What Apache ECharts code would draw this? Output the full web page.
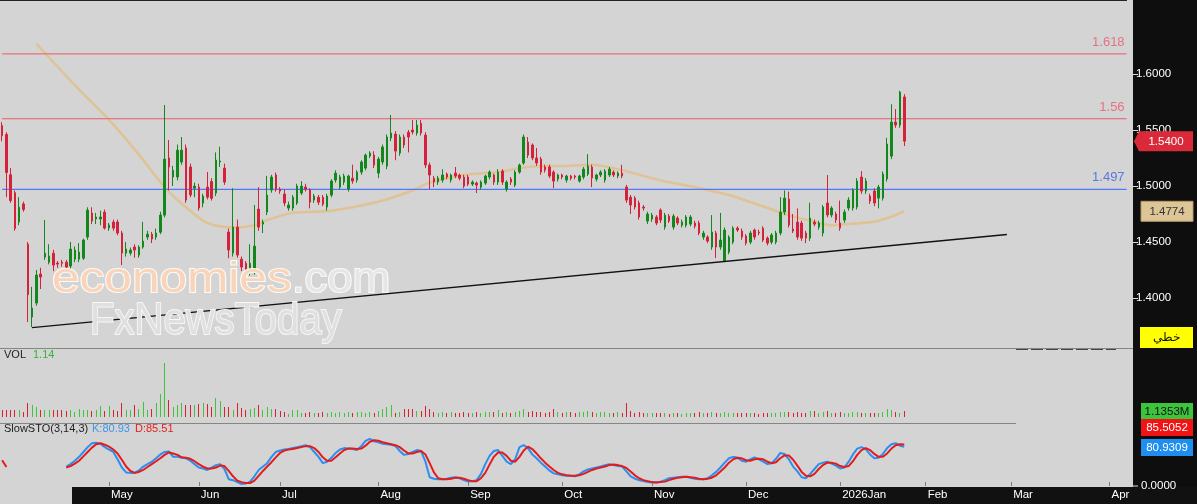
<!DOCTYPE html>
<html><head><meta charset="utf-8">
<script src="https://cdn.jsdelivr.net/npm/echarts@6/dist/echarts.min.js"></script>
<style>
html,body{margin:0;padding:0;background:#0e0e0e;overflow:hidden;width:1197px;height:504px}
#bg{position:absolute;left:0;top:0;width:1133px;height:504px;background:#d4d4d4}
#xbar{position:absolute;left:72px;top:487px;width:1125px;height:17px;background:#111}
#topline{position:absolute;left:0;top:0;width:1127px;height:1px;background:#222}
#sep1{position:absolute;left:0;top:348px;width:1133px;height:1px;background:#858585}
#sep2{position:absolute;left:0;top:423px;width:1016px;height:1px;background:#858585}
#dash{position:absolute;left:1016px;top:349px;width:100px;height:1px;background:repeating-linear-gradient(90deg,#444 0 12px,transparent 12px 15px)}
#c{position:absolute;left:0;top:0;width:1197px;height:504px}
</style>
</head><body>
<div id="bg"></div><div id="xbar"></div><div id="topline"></div><div id="sep1"></div><div id="sep2"></div><div id="dash"></div>
<div id="c"></div>
<script>
// ---- data ----
const slotCount = 265; // trading-day slots on the time axis (incl. future)
const monthLabels = ['May','Jun','Jul','Aug','Sep','Oct','Nov','Dec','2026Jan','Feb','Mar','Apr'];
const monthIdx = [25,46,65,88,109,131,152,174,196,216,236,259];
const priceTicks = [1.40,1.45,1.50,1.55,1.60];
const levels = [1.618, 1.56, 1.497];
const levelEndSlot = 263;
// [open, close, low, high]
const ohlc = [
[1.554,1.545,1.540,1.557],[1.546,1.512,1.490,1.548],[1.510,1.487,1.485,1.516],[1.494,1.462,1.460,1.496],[1.468,1.481,1.465,1.490],
[1.484,1.479,1.477,1.486],[1.448,1.403,1.3785,1.450],[1.383,1.391,1.374,1.410],[1.3955,1.4205,1.393,1.425],[1.4214,1.4187,1.408,1.427],
[1.4365,1.440,1.434,1.4696],[1.432,1.4374,1.430,1.448],[1.440,1.4294,1.424,1.443],[1.4312,1.4303,1.427,1.433],[1.432,1.431,1.428,1.434],
[1.432,1.4276,1.424,1.434],[1.4285,1.4437,1.426,1.450],[1.4347,1.4428,1.432,1.446],[1.4347,1.441,1.432,1.449],[1.4356,1.4517,1.434,1.453],
[1.4544,1.4785,1.452,1.481],[1.4758,1.4687,1.466,1.481],[1.4705,1.4723,1.466,1.476],[1.4705,1.4723,1.465,1.478],[1.4767,1.4624,1.461,1.479],
[1.4624,1.4651,1.460,1.467],[1.4678,1.4624,1.460,1.470],[1.4678,1.458,1.456,1.470],[1.458,1.4401,1.4294,1.460],[1.4401,1.4437,1.437,1.450],
[1.4401,1.4428,1.438,1.445],[1.4455,1.4428,1.436,1.448],[1.4383,1.4455,1.436,1.447],[1.4455,1.4508,1.444,1.468],[1.4544,1.457,1.452,1.460],
[1.457,1.4526,1.449,1.459],[1.4544,1.458,1.452,1.462],[1.4588,1.474,1.457,1.477],[1.474,1.524,1.472,1.5723],[1.525,1.517,1.496,1.541],
[1.508,1.514,1.500,1.518],[1.508,1.532,1.505,1.537],[1.5214,1.532,1.519,1.5437],[1.534,1.4874,1.485,1.537],[1.517,1.492,1.490,1.520],
[1.4981,1.4999,1.490,1.503],[1.499,1.4803,1.478,1.502],[1.4847,1.491,1.481,1.493],[1.499,1.490,1.488,1.5125],[1.504,1.489,1.487,1.507],
[1.4937,1.5231,1.491,1.530],[1.5214,1.5223,1.517,1.535],[1.516,1.5035,1.501,1.520],[1.4589,1.4428,1.4356,1.462],[1.4401,1.4633,1.437,1.498],
[1.4633,1.4383,1.436,1.470],[1.4347,1.4276,1.424,1.437],[1.431,1.425,1.421,1.433],[1.425,1.431,1.420,1.448],[1.425,1.4463,1.421,1.483],
[1.4794,1.4633,1.460,1.499],[1.466,1.4678,1.458,1.470],[1.4767,1.4919,1.474,1.509],[1.4964,1.508,1.494,1.510],[1.5098,1.4973,1.495,1.512],
[1.4973,1.4955,1.493,1.499],[1.4928,1.4848,1.482,1.497],[1.4803,1.483,1.478,1.486],[1.4803,1.490,1.478,1.492],[1.4848,1.4999,1.483,1.502],
[1.4937,1.4999,1.492,1.5044],[1.499,1.4973,1.495,1.502],[1.4964,1.4856,1.480,1.498],[1.4874,1.491,1.485,1.493],[1.490,1.4856,1.483,1.492],
[1.490,1.4838,1.482,1.492],[1.4812,1.491,1.478,1.493],[1.4919,1.5044,1.490,1.506],[1.5053,1.5115,1.503,1.514],[1.499,1.508,1.497,1.510],
[1.5035,1.5089,1.501,1.511],[1.4973,1.5089,1.495,1.510],[1.507,1.5044,1.502,1.519],[1.5053,1.5124,1.503,1.514],[1.5124,1.5214,1.510,1.523],
[1.516,1.5276,1.514,1.529],[1.5267,1.5294,1.525,1.531],[1.5276,1.5187,1.516,1.531],[1.5115,1.524,1.507,1.526],[1.5214,1.5348,1.519,1.537],
[1.5178,1.5437,1.515,1.546],[1.5428,1.5473,1.540,1.5633],[1.5464,1.5312,1.523,1.549],[1.5294,1.5437,1.527,1.546],[1.5437,1.5366,1.534,1.546],
[1.548,1.5437,1.530,1.550],[1.550,1.5482,1.546,1.559],[1.5473,1.5544,1.545,1.559],[1.556,1.5473,1.545,1.559],[1.5455,1.5187,1.516,1.548],
[1.5187,1.5098,1.4973,1.521],[1.507,1.5035,1.499,1.509],[1.5035,1.507,1.501,1.509],[1.5053,1.5098,1.503,1.515],[1.5107,1.508,1.506,1.512],
[1.5053,1.5098,1.503,1.511],[1.5115,1.5089,1.507,1.517],[1.5098,1.507,1.505,1.511],[1.508,1.4999,1.498,1.510],[1.508,1.5017,1.500,1.510],
[1.5017,1.5035,1.500,1.505],[1.5026,1.5008,1.4937,1.504],[1.499,1.5035,1.497,1.505],[1.5026,1.5089,1.501,1.510],[1.508,1.5124,1.506,1.514],
[1.5098,1.5035,1.501,1.511],[1.5035,1.5124,1.501,1.515],[1.5133,1.5035,1.501,1.515],[1.4973,1.5035,1.495,1.505],[1.5062,1.5035,1.501,1.508],
[1.5008,1.5124,1.499,1.514],[1.5124,1.5187,1.511,1.520],[1.5205,1.5437,1.519,1.546],[1.5392,1.5276,1.525,1.5437],[1.5366,1.525,1.523,1.538],
[1.525,1.5205,1.518,1.534],[1.5241,1.5124,1.510,1.526],[1.517,1.5142,1.512,1.519],[1.517,1.5089,1.507,1.519],[1.5124,1.5044,1.498,1.514],
[1.5062,1.5098,1.504,1.511],[1.5098,1.508,1.506,1.511],[1.5053,1.5089,1.503,1.510],[1.5089,1.507,1.505,1.510],[1.5089,1.508,1.506,1.510],
[1.5044,1.5089,1.503,1.510],[1.508,1.5151,1.506,1.517],[1.5107,1.5178,1.509,1.5285],[1.517,1.5071,1.499,1.519],[1.5062,1.5098,1.504,1.511],
[1.5098,1.5124,1.508,1.514],[1.5053,1.5133,1.503,1.515],[1.5098,1.5151,1.508,1.517],[1.5124,1.5098,1.508,1.514],[1.5089,1.5115,1.507,1.513],
[1.5115,1.5089,1.507,1.519],[1.499,1.4874,1.485,1.501],[1.490,1.483,1.475,1.492],[1.4892,1.4812,1.479,1.491],[1.4848,1.4723,1.470,1.487],
[1.4812,1.4803,1.478,1.483],[1.4687,1.475,1.466,1.477],[1.4705,1.474,1.468,1.476],[1.4723,1.4669,1.465,1.474],[1.4785,1.4696,1.467,1.480],
[1.4633,1.474,1.461,1.476],[1.4731,1.4687,1.467,1.475],[1.4633,1.4731,1.461,1.475],[1.4714,1.4669,1.465,1.473],[1.465,1.4678,1.463,1.470],
[1.465,1.4723,1.463,1.474],[1.466,1.4723,1.464,1.474],[1.4669,1.4642,1.462,1.469],[1.4669,1.458,1.456,1.469],[1.4544,1.458,1.452,1.460],
[1.4544,1.4508,1.449,1.456],[1.4455,1.4589,1.443,1.474],[1.458,1.4455,1.4356,1.460],[1.4455,1.4517,1.443,1.476],[1.433,1.4607,1.432,1.463],
[1.441,1.4544,1.439,1.456],[1.4499,1.4624,1.448,1.464],[1.4624,1.4607,1.459,1.464],[1.4598,1.4544,1.452,1.462],[1.4553,1.449,1.447,1.457],
[1.4499,1.458,1.448,1.460],[1.4607,1.4544,1.452,1.462],[1.4589,1.458,1.456,1.461],[1.4624,1.4517,1.450,1.464],[1.4535,1.449,1.447,1.455],
[1.4499,1.4562,1.448,1.458],[1.4499,1.458,1.448,1.460],[1.458,1.4767,1.456,1.490],[1.4767,1.4892,1.474,1.496],[1.4883,1.4651,1.463,1.495],
[1.4615,1.4598,1.458,1.475],[1.4678,1.4544,1.452,1.480],[1.4669,1.4535,1.451,1.469],[1.458,1.4535,1.449,1.460],[1.4535,1.4714,1.451,1.485],
[1.4678,1.466,1.464,1.470],[1.4633,1.4669,1.461,1.469],[1.458,1.4812,1.455,1.483],[1.4848,1.4741,1.472,1.5098],[1.4741,1.4803,1.472,1.482],
[1.475,1.4696,1.467,1.477],[1.4669,1.4624,1.460,1.487],[1.4696,1.4767,1.467,1.479],[1.4803,1.4874,1.478,1.490],[1.4803,1.4964,1.478,1.498],
[1.4812,1.5044,1.479,1.507],[1.508,1.4955,1.493,1.5133],[1.4955,1.5044,1.493,1.507],[1.491,1.4866,1.484,1.493],[1.4955,1.4848,1.482,1.498],
[1.4892,1.499,1.480,1.501],[1.4892,1.5107,1.487,1.513],[1.5062,1.5374,1.504,1.543],[1.5267,1.5571,1.524,1.573],[1.5571,1.5544,1.552,1.5687],
[1.5544,1.5839,1.552,1.585],[1.5795,1.540,1.5357,1.582]
];
// volume in millions
const volume = [
1.27,1.39,1.39,1.39,1.27,0.95,2.7,2.2,1.9,1.27,
1.39,1.27,1.27,1.27,1.27,1.08,1.27,0.95,1.58,1.39,
1.27,1.08,1.27,2.1,1.08,2.1,1.27,1.08,2.7,1.27,
1.27,2.3,1.58,2.85,1.39,1.58,2.7,4.4,10.3,3.2,
1.9,2.2,2.7,2.2,2.2,2.34,2.5,2.7,2.5,1.9,
3.6,3.0,1.9,1.9,1.27,2.7,1.75,1.27,1.58,1.75,
2.34,1.27,1.9,1.58,1.58,1.08,0.95,0.63,1.27,1.27,
0.8,0.7,0.9,0.8,0.7,0.9,0.8,0.9,0.8,1.0,
0.8,0.9,0.8,0.9,1.0,0.8,0.9,0.8,1.1,1.45,
1.9,2.3,0.8,1.0,1.45,1.45,1.45,1.1,1.1,2.1,
1.45,0.9,0.8,0.9,0.8,1.0,0.8,0.8,0.9,0.8,
0.7,0.9,0.8,0.9,1.0,0.9,1.25,0.8,0.9,0.8,
1.0,1.1,1.45,1.0,1.1,0.9,1.0,0.8,0.9,1.45,
0.9,0.8,0.9,1.0,0.8,0.9,1.0,1.1,1.0,0.8,
0.9,0.9,0.8,0.8,0.9,0.8,2.7,1.1,0.8,0.9,
0.7,0.8,0.7,0.7,0.8,0.7,0.6,0.8,0.7,0.6,
0.8,0.7,0.7,0.9,0.7,0.7,0.9,0.8,0.8,1.0,
0.8,0.7,0.7,0.8,0.7,0.8,0.7,0.6,0.8,0.7,
0.7,0.8,1.0,0.9,1.0,0.7,0.9,0.8,0.7,1.1,
1.1,0.8,0.9,1.1,0.8,0.8,0.9,0.8,0.8,0.9,
1.0,0.8,0.8,0.7,0.8,0.8,0.9,1.6,1.25,0.9,
0.8,1.1353
];
const stoStart = 15;
const stoK = [
40,45,52,60,70,80,88,89,87,80, 75,70,55,38,28,27,27,32,40,45,
50,57,65,70,71,60,60,58,57,52, 45,38,36,33,38,43,45,35,14,12,
8,4,5,9,20,33,40,47,60,70, 73,75,76,78,80,82,84,80,70,60,
47,50,58,68,75,78,77,76,74,82, 93,97,92,90,87,86,85,82,72,64,
66,70,74,72,50,18,15,14,14,15, 17,18,16,12,9,10,12,25,45,62,
72,74,62,50,45,55,80,84,78,65, 57,48,40,32,26,24,22,21,21,20,
24,30,34,36,38,40,43,45,43,41, 40,30,20,15,12,10,8,7,7,9,
12,16,17,18,19,19,17,15,14,14, 16,22,29,38,48,57,60,58,52,50,
55,59,55,50,45,47,56,68,66,55, 40,30,18,16,25,35,45,48,50,46,
42,36,38,50,65,77,80,76,65,57, 58,66,78,86,88,83,80.9309
];
const stoD = [
38,41,46,52,61,70,79,86,88,85, 81,75,67,54,40,31,27,29,33,39,
45,51,57,64,69,67,64,59,58,56, 51,45,40,36,36,38,42,41,31,20,
11,8,6,6,11,21,31,40,49,59, 68,73,75,76,78,80,82,82,78,70,
59,52,52,59,67,74,77,77,76,77, 83,91,94,93,90,88,86,84,80,73,
67,67,70,72,65,47,28,16,14,14, 15,17,17,15,12,10,10,16,27,44,
60,69,69,62,52,50,60,73,81,76, 67,57,48,40,33,27,24,22,21,21,
22,25,29,33,36,38,40,43,44,43, 41,37,30,22,16,12,10,8,7,8,
9,12,15,17,18,19,18,17,15,14, 15,17,22,30,38,48,55,58,57,53,
52,55,56,55,50,47,49,57,63,63, 54,42,29,21,20,25,35,43,48,48,
46,41,39,41,51,64,74,78,74,66, 60,60,67,77,84,86,85.5052
];
const stoDStub = [53, 39];
// moving average read at sample points [slot, price]
const maPoints = [[8,1.627],[18,1.586],[25,1.559],[32,1.528],[38,1.499],[43,1.481],[48,1.467],[54,1.463],[59,1.465],[62,1.4696],
[68,1.476],[77,1.478],[88,1.486],[96,1.496],[100,1.503],[108,1.510],[116,1.5125],[123,1.517],[133,1.518],[138,1.519],
[145,1.514],[154,1.505],[162,1.499],[170,1.492],[177,1.483],[184,1.474],[189,1.469],[194,1.465],[198,1.466],[205,1.469],[211,1.4774]];
const trendPoints = [[7,1.3735],[235,1.4567]];

// ---- chart ----
const FONT = 'Liberation Sans, Arial, sans-serif';
const UP = '#12871b', DOWN = '#d6213b', VUP = '#3fc43a', VDOWN = '#dc1f30';
const levelColors = ['#e8707c', '#ea5a68', '#5078ff'];
const levelLabelColors = ['#e57284', '#e57284', '#5a78e0'];
const categories = Array.from({length: slotCount}, (_, i) => String(i));
const chart = echarts.init(document.getElementById('c'));

const isMonth = (idx) => monthIdx.indexOf(idx) >= 0;
const xBase = (gi, extra) => Object.assign({type:'category', gridIndex: gi, data: categories, boundaryGap: true,
  axisLine:{show:false}, axisTick:{show:false}, axisLabel:{show:false}, splitLine:{show:false}}, extra || {});

const levelSeries = levels.map((v, k) => ({
  type:'line', xAxisIndex:0, yAxisIndex:0, silent:true, z:2, symbol:'none',
  data:[[0, v], [levelEndSlot, v]],
  itemStyle:{color:levelColors[k]},
  lineStyle:{color:levelColors[k], width:1.1, type:'solid'},
  emphasis:{disabled:true}
}));

const option = {
  animation: false,
  backgroundColor: 'transparent',
  grid: [
    {left:0, top:18, width:1133, height:336, containLabel:false, outerBoundsMode:'none'},
    {left:0, top:349, width:1133, height:68, containLabel:false, outerBoundsMode:'none'},
    {left:0, top:437.4, width:1133, height:48.6, containLabel:false, outerBoundsMode:'none'}
  ],
  xAxis: [
    xBase(0), xBase(1),
    xBase(2, {
      axisTick:{show:true, inside:true, length:4, alignWithLabel:true, interval:(i)=>isMonth(i), lineStyle:{color:'#7c7c7c'}},
      axisLabel:{show:true, interval:(i)=>isMonth(i), formatter:(v,i)=>monthLabels[monthIdx.indexOf(i)] || '',
        color:'#ffffff', fontSize:11.5, fontFamily:FONT, margin:3, align:'left', padding:[0,0,0,2]}
    })
  ],
  yAxis: [
    {type:'value', gridIndex:0, position:'right', min:1.35, max:1.65, scale:true,
      splitLine:{show:false}, axisLine:{show:false},
      axisTick:{show:true, length:5, lineStyle:{color:'#dddddd'}, customValues: priceTicks},
      axisLabel:{color:'#ffffff', fontSize:11.5, fontFamily:FONT, margin:3,
        formatter:(v)=>v.toFixed(4), customValues: priceTicks}},
    {type:'value', gridIndex:1, min:0, max:12.9, show:false},
    {type:'value', gridIndex:2, position:'right', min:0, max:100, splitLine:{show:false}, axisLine:{show:false},
      axisTick:{show:false}, axisLabel:{show:false}}
  ],
  series: [
    {type:'line', name:'MA', xAxisIndex:0, yAxisIndex:0, data: maPoints, symbol:'none', smooth:0.3, z:1,
      lineStyle:{color:'#e0c089', width:2.5, opacity:0.85}},
    ...levelSeries,
    {type:'candlestick', xAxisIndex:0, yAxisIndex:0, data: ohlc, barWidth:2, z:3,
      itemStyle:{color:UP, color0:DOWN, borderColor:UP, borderColor0:DOWN, borderWidth:1}},
    {type:'line', name:'trend', xAxisIndex:0, yAxisIndex:0, data: trendPoints, symbol:'none', z:4,
      lineStyle:{color:'#111111', width:1.3}},
    {type:'custom', xAxisIndex:1, yAxisIndex:1,
      data: volume.map((v, i) => [i, v, ohlc[i][1] >= ohlc[i][0] ? 1 : 0]),
      renderItem: (params, api) => {
        const base = api.coord([api.value(0), 0]);
        const top = api.coord([api.value(0), api.value(1)]);
        const x = Math.floor(base[0]);
        const yb = Math.round(base[1]);
        const yt = Math.round(top[1]);
        return {type:'rect', shape:{x:x, y:yt, width:1, height:yb - yt},
          style:{fill: api.value(2) ? VUP : VDOWN}};
      }},
    {type:'line', xAxisIndex:2, yAxisIndex:2, data: stoK.map((v, i) => [stoStart + i, v]), symbol:'none',
      lineStyle:{color:'#2b8ff0', width:2}},
    {type:'line', xAxisIndex:2, yAxisIndex:2, data: stoD.map((v, i) => [stoStart + i, v]), symbol:'none',
      lineStyle:{color:'#e41b1b', width:2}},
    {type:'line', xAxisIndex:2, yAxisIndex:2, data: stoDStub.map((v, i) => [i, v]), symbol:'none',
      lineStyle:{color:'#e41b1b', width:2}}
  ]
};
chart.setOption(option);

// ---- right-side value boxes & labels ----
const lastClose = ohlc[ohlc.length - 1][1];
const lastMA = maPoints[maPoints.length - 1][1];
const lastVol = volume[volume.length - 1];
const lastK = stoK[stoK.length - 1], lastD = stoD[stoD.length - 1];
const yClose = chart.convertToPixel({yAxisIndex:0}, lastClose);
const yMA = chart.convertToPixel({yAxisIndex:0}, lastMA);
const yVol = chart.convertToPixel({yAxisIndex:1}, lastVol);
const ySto0 = chart.convertToPixel({yAxisIndex:2}, 0);

const txt = (x, y, text, fill, size, extra) => ({type:'text', x, y, z:50, silent:true,
  style: Object.assign({text, fill, font: size + 'px ' + FONT, align:'left', verticalAlign:'middle'}, extra || {})});
const box = (x, y, w, h, fill, text, color, stroke) => ([
  {type:'rect', shape:{x, y, width:w, height:h}, z:49, silent:true, style:{fill, stroke: stroke || null, lineWidth: stroke ? 1 : 0}},
  txt(x + w / 2, y + h / 2 + 0.5, text, color, 11.5, {align:'center'})
]);

const g = [];
// level labels (right end, above each line)
levels.forEach((v, k) => {
  const p = chart.convertToPixel({xAxisIndex:0, yAxisIndex:0}, [levelEndSlot, v]);
  g.push(txt(p[0] - 2, p[1] - 5, String(v), levelLabelColors[k], 13, {align:'right', verticalAlign:'bottom'}));
});
g.push({type:'polygon', z:49, silent:true, shape:{points:[[1134, yClose],[1139, yClose-10],[1193, yClose-10],[1193, yClose+10],[1139, yClose+10]]}, style:{fill:'#da2a3a'}});
g.push(txt(1166, yClose + 0.5, lastClose.toFixed(4), '#ffffff', 11.5, {align:'center'}));
g.push(...box(1141, yMA - 10, 52, 20, '#dcc597', lastMA.toFixed(4), '#333333', '#b89a64'));
g.push(...box(1140, 327, 53, 21, '#ffff00', 'خطي', '#111111'));
g.push(...box(1141, yVol - 8, 52, 16, '#3cc43c', lastVol.toFixed(4) + 'M', '#111111'));
g.push(...box(1141, 419, 52, 17, '#f01414', lastD.toFixed(4), '#ffffff'));
g.push(...box(1141, 439, 52, 17, '#1e8ef0', lastK.toFixed(4), '#ffffff'));
g.push({type:'line', z:49, silent:true, shape:{x1:1133, y1:ySto0, x2:1138, y2:ySto0}, style:{stroke:'#dddddd', lineWidth:1}});
g.push(txt(1141, ySto0, (0).toFixed(4), '#ffffff', 11.5));
// panel captions
g.push(txt(4, 355, 'VOL', '#222222', 11));
g.push(txt(33, 355, lastVol.toFixed(2), '#35b535', 11));
g.push(txt(4, 429, 'SlowSTO(3,14,3)', '#222222', 11));
g.push(txt(92, 429, 'K:' + lastK.toFixed(2), '#3a96ee', 11));
g.push(txt(135, 429, 'D:' + lastD.toFixed(2), '#e82020', 11));
// watermark
g.push({type:'text', x:52, y:280, scaleX:1.18, z:20, silent:true, style:{text:'economies', fill:'#f9d4b8', stroke:'#fbfbfb', lineWidth:2,
  font:'42px ' + FONT, verticalAlign:'middle'}});
g.push({type:'text', x:292, y:280, scaleX:1.08, z:20, silent:true, style:{text:'.com', fill:'#e6e6e6', stroke:'#fbfbfb', lineWidth:2,
  font:'42px ' + FONT, verticalAlign:'middle'}});
g.push({type:'text', x:90, y:322, scaleX:0.89, z:20, silent:true, style:{text:'FxNewsToday', fill:'#e0e0e0', stroke:'#f7f7f7', lineWidth:2,
  font:'45px ' + FONT, verticalAlign:'middle'}});
chart.setOption({graphic: g});
</script>
</body></html>
